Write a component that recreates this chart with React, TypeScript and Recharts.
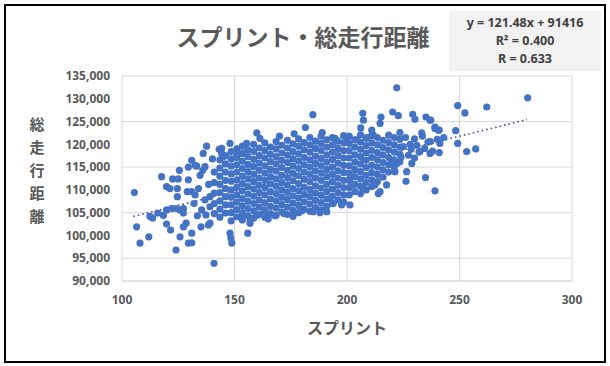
import React from 'react';
import { ScatterChart, Scatter, XAxis, YAxis, CartesianGrid, ReferenceLine } from 'recharts';

// readings: [sprint, total distance]
const leftTail: [number, number][] = [
  [105.5, 109400], [106.5, 101900], [108, 98300], [111.9, 99700], [112.4, 104200], [113.6, 103800],
  [115.9, 104900], [117.6, 112900], [118.4, 104400], [119.8, 110700], [121.3, 110300], [119.8, 105600],
  [122.1, 105900], [119.8, 102500], [121.6, 101200], [122.5, 112400], [125, 112400], [124, 96800],
  [124.6, 110300], [124.6, 108500], [124, 105900], [125.8, 105600], [127.3, 105900], [125.5, 114300],
  [125.8, 99700], [127.3, 104900], [127.3, 101900], [128.5, 102700], [129.5, 112200], [129.5, 115000],
  [131, 116500], [132.5, 115400], [133.2, 115200], [129.5, 98300], [131, 98400], [131, 100500],
  [129, 109600], [131, 109600], [132.5, 108900], [134, 110300], [132, 107000], [135.1, 101900],
  [138.4, 102300], [136.1, 118000], [137.6, 119600], [135.9, 114300], [136.9, 115100], [134.7, 113200],
  [136.9, 107800], [135.4, 105600], [137.3, 104500], [139.1, 106300], [139.1, 108500], [140.9, 93900],
  [143.2, 118900], [144.3, 118000], [145, 117300], [148, 120200], [151, 117600], [148, 100500],
  [148.4, 99400], [148.8, 98300], [155.9, 100500], [159.9, 122500], [161.3, 121300], [155.4, 120200],
  [139.1, 102700], [156.9, 102700], [144.3, 119100], [138.5, 111200], [140.2, 116800], [133.5, 104300],
];

// dense middle of the cloud, column by column
const coreSprint = [
  141, 143.5, 146, 148.5, 151, 153.5, 156, 158.5, 161, 163.5, 166, 168.5, 171, 173.5, 176, 178.5,
  181, 183.5, 186, 188.5, 191, 193.5, 196, 198.5, 201, 203.5, 206, 208.5, 211, 213.5, 216, 218.5, 221, 223.5,
];
const coreDistance: number[][] = [
  [104800, 107000, 109300, 111600, 113900],
  [104000, 105800, 107600, 109400, 111200, 113000, 114800, 116600],
  [104900, 106700, 108500, 110300, 112100, 113900, 115700, 117500],
  [103200, 105000, 106700, 108400, 110000, 111900, 113500, 115200, 116800, 118400],
  [104100, 105700, 107300, 108900, 110600, 112200, 113900, 115500, 117100, 119000],
  [103400, 105000, 106500, 108100, 109800, 111400, 113000, 114700, 116300, 118000, 119600],
  [104300, 105900, 107500, 109100, 110700, 112400, 114000, 115600, 117300, 118800],
  [103800, 105400, 107000, 108600, 110200, 111800, 113400, 115100, 116700, 118400, 120000],
  [104600, 106200, 107800, 109400, 111000, 112600, 114300, 115900, 117500, 119200],
  [104000, 105600, 107200, 108900, 110500, 112100, 113700, 115300, 117000, 118600, 120300],
  [104800, 106400, 108000, 109600, 111300, 112900, 114500, 116200, 117800, 119400],
  [104400, 106000, 107600, 109200, 110800, 112400, 114100, 115700, 117300, 119000, 120600],
  [105200, 106800, 108400, 110000, 111600, 113200, 114900, 116500, 118100, 119800],
  [104600, 106200, 107900, 109500, 111100, 112700, 114300, 116000, 117600, 119200, 120900],
  [105500, 107100, 108700, 110300, 112000, 113600, 115200, 116800, 118400, 120100],
  [105000, 106600, 108200, 109800, 111400, 113100, 114700, 116300, 117900, 119600, 121200],
  [105800, 107400, 109000, 110600, 112300, 113900, 115500, 117100, 118800, 120400],
  [105300, 106900, 108500, 110100, 111800, 113400, 115000, 116600, 118300, 119900, 121500],
  [106100, 107700, 109300, 110900, 112600, 114200, 115800, 117400, 119100, 120700],
  [105600, 107200, 108800, 110400, 112100, 113700, 115300, 116900, 118600, 120200, 121800],
  [106400, 108000, 109600, 111200, 112900, 114500, 116100, 117700, 119400, 121000],
  [107000, 108600, 110200, 111800, 113400, 115000, 116700, 118300, 119900, 121500],
  [107800, 109400, 111000, 112600, 114200, 115900, 117500, 119100, 120700],
  [107300, 108900, 110500, 112100, 113800, 115400, 117000, 118600, 120300, 121900],
  [108900, 110500, 112100, 113700, 115300, 117000, 118600, 120200, 121800],
  [109600, 111200, 112900, 114500, 116100, 117700, 119400, 121000],
  [109200, 110800, 112400, 114000, 115700, 117300, 118900, 120500, 122100],
  [110000, 111600, 113200, 114900, 116500, 118100, 119700, 121300],
  [112200, 113800, 115400, 117100, 118700, 120300, 121900],
  [111800, 113400, 115000, 116600, 118200, 119900, 121500],
  [112800, 114400, 116000, 117700, 119300, 120900],
  [113900, 115500, 117100, 118800, 120400, 122000],
  [115000, 116600, 118300, 119900, 121500],
  [116200, 117800, 119400, 121100, 122600],
];

const lowerEdge: [number, number][] = [
  [153, 104000], [157, 103300], [160, 104400], [163, 104900], [165, 103600], [168, 104300],
  [172, 104800], [176, 104200], [180, 105400], [185, 105200], [188, 105000], [191, 105200],
  [192.4, 108100], [193.9, 107000], [197.6, 106700], [201.3, 106700],
];

const rightTail: [number, number][] = [
  [222.1, 132400], [184.8, 126500], [181.5, 123700], [207, 126800], [207.3, 125300], [206.1, 123600],
  [215.1, 126000], [214.7, 124600], [220.3, 127100], [222.8, 126300], [229.2, 126600], [230.2, 125500],
  [235.1, 126000], [236.9, 125300], [239.1, 123800], [240.6, 123100], [211, 123100], [211.7, 122000],
  [194.7, 121300], [199.9, 121300], [204.3, 121000], [208.7, 121500], [226, 121500], [230, 121200],
  [233.5, 121800], [237, 120600], [228, 120000], [232.4, 118400], [236.9, 118000], [241, 118200],
  [227.3, 117600], [228.8, 115800], [226.5, 114000], [219.9, 116200], [222.1, 115800], [221.3, 114000],
  [226.2, 111900], [217.6, 111100], [214.7, 109600], [213.9, 109200], [212.4, 111100], [211, 110700],
  [207.3, 110300], [202.1, 111100], [201.3, 112500], [280.3, 130200], [262.1, 128200], [249.2, 128500],
  [252.4, 126900], [237.2, 125300], [239.1, 123500], [241, 123100], [248.3, 123000], [233.2, 122500],
  [240.1, 121100], [241.3, 120200], [249.2, 120200], [253.2, 118400], [257.2, 119000], [228.5, 118900],
  [232, 118300], [234.5, 119100], [238, 118500], [234.9, 112700], [239.1, 109800], [230, 117000],
  [225, 119500], [224, 117200], [231, 119800], [236, 120500], [243, 121500], [176.5, 122300],
  [189, 122600], [170, 121800],
];

// Excel trendline y = 121.48x + 91416, ends read at the first and last sprint values
const trendEnds = [
  { x: 105, y: 104171 },
  { x: 280, y: 125430 },
];

const xTicks = [100, 150, 200, 250, 300];
const yTicks = [90000, 95000, 100000, 105000, 110000, 115000, 120000, 125000, 130000, 135000];
const yTitle = ['総', '走', '行', '距', '離'];
const stats = ['y = 121.48x + 91416', 'R² = 0.400', 'R = 0.633'];

const points = [
  ...leftTail,
  ...coreSprint.flatMap((s, i) => coreDistance[i].map((d) => [s, d] as [number, number])),
  ...lowerEdge,
  ...rightTail,
].map(([x, y]) => ({ x, y }));

const gray = '#595959';
const jp = '"Noto Sans CJK JP", "Noto Sans", sans-serif';
const num = '"Noto Sans", "Liberation Sans", sans-serif';

const Dot = (p: any) => <circle cx={p.cx} cy={p.cy} r={3.6} fill="#4472C4" />;

export default function App() {
  return (
    <div style={{ position: 'absolute', left: 0, top: 0, width: 610, height: 366, background: '#fff' }}>
      <div
        style={{
          position: 'absolute', left: 4, top: 4, width: 598, height: 355,
          border: '2px solid #000', background: '#fff',
        }}
      />
      <ScatterChart
        width={610}
        height={366}
        margin={{ top: 76, right: 38, bottom: 55, left: 62 }}
        style={{ position: 'absolute', left: 0, top: 0 }}
      >
        <CartesianGrid stroke="#d9d9d9" strokeWidth={1} />
        <XAxis
          type="number"
          dataKey="x"
          domain={[100, 300]}
          ticks={xTicks}
          stroke="#d9d9d9"
          tickLine={false}
          tickSize={6}
          tickMargin={8}
          tick={{ fill: gray, fontSize: 12, fontWeight: 700, fontFamily: num }}
        />
        <YAxis
          type="number"
          dataKey="y"
          domain={[90000, 135000]}
          ticks={yTicks}
          width={60}
          axisLine={false}
          tickLine={false}
          tickSize={6}
          tickMargin={6}
          tickFormatter={(v: number) => v.toLocaleString('en-US')}
          tick={{ fill: gray, fontSize: 12, fontWeight: 700, fontFamily: num }}
        />
        <Scatter data={points} shape={Dot} isAnimationActive={false} />
        <ReferenceLine
          segment={trendEnds}
          stroke="#3b5a94"
          strokeWidth={1.6}
          strokeDasharray="1.6 3"
        />
      </ScatterChart>

      <div
        style={{
          position: 'absolute', left: 0, width: 606, top: 19, textAlign: 'center',
          fontFamily: jp, fontWeight: 700, fontSize: 23, color: gray, lineHeight: '34px',
        }}
      >
        スプリント・総走行距離
      </div>

      <div
        style={{
          position: 'absolute', left: 449, top: 11, width: 152, height: 60, background: '#f2f2f2',
          fontFamily: num, fontWeight: 700, fontSize: 12.5, color: '#404040', textAlign: 'center',
          lineHeight: '18px', paddingTop: 3, boxSizing: 'border-box',
        }}
      >
        {stats.map((s) => (
          <div key={s}>{s}</div>
        ))}
      </div>

      {yTitle.map((c, i) => (
        <div
          key={c}
          style={{
            position: 'absolute', left: 27, top: 113 + i * 23, width: 20, textAlign: 'center',
            fontFamily: jp, fontWeight: 700, fontSize: 15, color: gray, lineHeight: '22px',
          }}
        >
          {c}
        </div>
      ))}

      <div
        style={{
          position: 'absolute', left: 247, width: 200, top: 315, textAlign: 'center',
          fontFamily: jp, fontWeight: 700, fontSize: 16, color: gray, lineHeight: '24px',
        }}
      >
        スプリント
      </div>
    </div>
  );
}
